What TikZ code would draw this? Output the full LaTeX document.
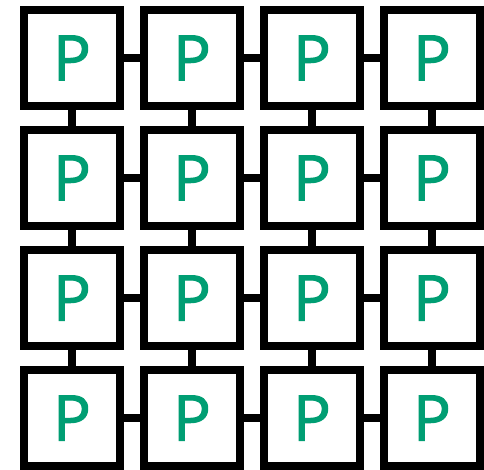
\documentclass[tikz,border=0pt]{standalone}
\usepackage{fontspec}
\usepackage{xcolor}
\usepackage{tikz}
\usetikzlibrary{
  positioning,
  calc
}
\newfontfamily\pefont{Open Sans}[FakeBold=1.6]
\definecolor{peGreen}{HTML}{009E73}
\tikzset{
  pecell/.style={
    draw=black, line width=8pt, fill=white, minimum size=96pt,
    inner sep=0pt, font=\pefont\fontsize{63}{63}\selectfont, text=peGreen
  },
  pelink/.style={line width=8pt, black}
}

\begin{document}
\begin{tikzpicture}[x=1pt, y=1pt]
  \useasboundingbox (0,0) rectangle (484,-469);
  % 4x4 array of processing elements
  \foreach \r in {1,...,4}{
    \foreach \c in {1,...,4}{
      \node[pecell] (p-\r-\c) at ({72+120*(\c-1)}, {-58-120*(\r-1)}) {P};
    }
  }
  % horizontal links
  \foreach \r in {1,...,4}{
    \foreach \c/\n in {1/2, 2/3, 3/4}{
      \draw[pelink] (p-\r-\c.east) -- (p-\r-\n.west);
    }
  }
  % vertical links
  \foreach \c in {1,...,4}{
    \foreach \r/\n in {1/2, 2/3, 3/4}{
      \draw[pelink] (p-\r-\c.south) -- (p-\n-\c.north);
    }
  }
\end{tikzpicture}
\end{document}
